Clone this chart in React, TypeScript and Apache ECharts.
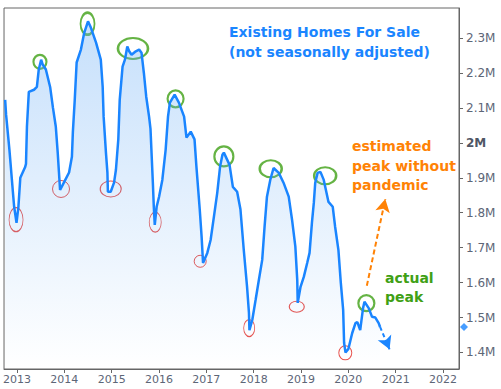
import React, { useEffect, useRef } from 'react';
import * as echarts from 'echarts';

// Inventory line (decimal year, millions of homes)
const lineYears = [
  2012.75, 2012.77, 2012.84, 2012.91, 2012.94, 2012.99, 2013.03, 2013.07, 2013.12, 2013.17,
  2013.19, 2013.21, 2013.25, 2013.36, 2013.42, 2013.46, 2013.51, 2013.54, 2013.61, 2013.70,
  2013.76, 2013.82, 2013.86, 2013.91, 2013.99, 2014.10, 2014.16, 2014.18, 2014.22, 2014.26,
  2014.35, 2014.42, 2014.50, 2014.56, 2014.67, 2014.77, 2014.81, 2014.83, 2014.88, 2014.91,
  2014.92, 2014.98, 2015.05, 2015.09, 2015.14, 2015.17, 2015.23, 2015.28, 2015.33, 2015.37,
  2015.42, 2015.51, 2015.58, 2015.63, 2015.68, 2015.73, 2015.79, 2015.82, 2015.87, 2015.89,
  2015.91, 2015.95, 2016.00, 2016.07, 2016.14, 2016.19, 2016.23, 2016.33, 2016.42, 2016.53,
  2016.58, 2016.67, 2016.75, 2016.79, 2016.86, 2016.90, 2016.93, 2017.02, 2017.09, 2017.16,
  2017.23, 2017.29, 2017.34, 2017.37, 2017.49, 2017.56, 2017.65, 2017.72, 2017.79, 2017.86,
  2017.90, 2017.91, 2017.97, 2018.04, 2018.11, 2018.18, 2018.23, 2018.28, 2018.35, 2018.42,
  2018.53, 2018.63, 2018.74, 2018.81, 2018.88, 2018.92, 2018.93, 2018.99, 2019.06, 2019.13,
  2019.18, 2019.23, 2019.27, 2019.30, 2019.35, 2019.41, 2019.48, 2019.58, 2019.67, 2019.72,
  2019.79, 2019.84, 2019.89, 2019.91, 2019.94, 2020.00, 2020.08, 2020.15, 2020.19, 2020.25,
  2020.31, 2020.34, 2020.43, 2020.50, 2020.57, 2020.64, 2020.67,
];
const lineValues = [
  2.123, 2.08, 1.98, 1.865, 1.817, 1.771, 1.817, 1.90, 1.915, 1.93,
  1.94, 2.046, 2.146, 2.152, 2.16, 2.21, 2.238, 2.225, 2.21, 2.16,
  2.10, 2.046, 1.972, 1.865, 1.886, 1.915, 1.96, 2.03, 2.123, 2.23,
  2.267, 2.315, 2.348, 2.33, 2.287, 2.238, 2.16, 2.075, 1.97, 1.915,
  1.86, 1.86, 1.886, 1.923, 2.01, 2.123, 2.218, 2.238, 2.276, 2.262,
  2.252, 2.262, 2.267, 2.258, 2.2, 2.132, 2.075, 2.04, 1.886, 1.817,
  1.765, 1.817, 1.845, 1.894, 1.98, 2.075, 2.115, 2.138, 2.115, 2.075,
  2.015, 2.032, 2.01, 1.932, 1.81, 1.731, 1.656, 1.685, 1.722, 1.789,
  1.857, 1.932, 1.966, 1.972, 1.937, 1.874, 1.86, 1.81, 1.694, 1.588,
  1.513, 1.464, 1.493, 1.55, 1.608, 1.665, 1.76, 1.846, 1.894, 1.928,
  1.914, 1.886, 1.846, 1.78, 1.703, 1.608, 1.542, 1.588, 1.617, 1.656,
  1.685, 1.771, 1.828, 1.886, 1.914, 1.917, 1.894, 1.831, 1.817, 1.76,
  1.693, 1.60, 1.522, 1.427, 1.40, 1.41, 1.455, 1.484, 1.487, 1.464,
  1.527, 1.545, 1.527, 1.502, 1.50, 1.484, 1.473,
];

// Axis ticks
const xTickYears = [2013, 2014, 2015, 2016, 2017, 2018, 2019, 2020, 2021, 2022];
const yTickValues = [1.4, 1.5, 1.6, 1.7, 1.8, 1.9, 2, 2.1, 2.2, 2.3];
const xRange = [2012.726, 2022.337];
const yRange = [1.3527, 2.386];

// Annotated peaks (green) and troughs (red)
const peakYears = [2013.485, 2014.49, 2015.45, 2016.35, 2017.37, 2018.36, 2019.51, 2020.38];
const peakValues = [2.232, 2.341, 2.27, 2.126, 1.961, 1.926, 1.906, 1.541];
const troughYears = [2012.98, 2013.93, 2014.98, 2015.92, 2016.87, 2017.905, 2018.91, 2019.935];
const troughValues = [1.78, 1.868, 1.868, 1.773, 1.661, 1.47, 1.531, 1.399];

// Arrows: [startYear, startValue, endYear, endValue]
const estimateArrow = [2020.39, 1.591, 2020.78, 1.839];
const trendArrow = [2020.67, 1.473, 2020.87, 1.409];

// Ellipse sizes (style)
const peakSizes = [[13, 14], [14, 22], [30, 21], [16, 17], [19, 20], [22, 17], [22, 17], [16, 16]];
const troughSizes = [[14, 24], [17, 17], [21, 16], [12, 20], [12, 12], [11, 17], [15, 11], [13, 14]];

const BLUE = '#1a85ff';
const ORANGE = '#ff8205';
const GREEN = '#3fa015';
const RED = '#e3261e';
const LABEL = '#5d6677';
const FONT = '"DejaVu Sans", Verdana, sans-serif';
const ELLIPSE = 'path://M0,1A1,1,0,1,1,2,1A1,1,0,1,1,0,1Z';

export default function App() {
  const ref = useRef<HTMLDivElement>(null);
  useEffect(() => {
    if (!ref.current) return;
    const chart = echarts.init(ref.current, undefined, { renderer: 'svg' });
    const n = Math.min(lineYears.length, lineValues.length);
    const lineData = [];
    for (let i = 0; i < n; i++) lineData.push([lineYears[i], lineValues[i]]);
    const lastValue = lineValues[n - 1];

    const textEl = (text: string, left: number, top: number, color: string) => ({
      type: 'text',
      left,
      top,
      silent: true,
      style: { text, fill: color, font: `bold 14px ${FONT}` },
    });

    chart.setOption({
      animation: false,
      grid: {
        left: 3, right: 42, top: 8, bottom: 20,
        show: true, borderColor: '#666', borderWidth: 1,
      },
      xAxis: {
        type: 'value',
        min: xRange[0],
        max: xRange[1],
        axisLine: { lineStyle: { color: '#666' } },
        axisTick: { show: true, customValues: xTickYears, length: 4, lineStyle: { color: '#666' } },
        axisLabel: {
          customValues: xTickYears,
          color: LABEL, fontSize: 11, fontFamily: FONT, margin: 5,
          formatter: (v: number) => String(Math.round(v)),
        },
        splitLine: { show: false },
      },
      yAxis: {
        type: 'value',
        position: 'right',
        min: yRange[0],
        max: yRange[1],
        axisLine: { show: true, lineStyle: { color: '#666' } },
        axisTick: { show: true, customValues: yTickValues, length: 4, lineStyle: { color: '#666' } },
        axisLabel: {
          customValues: yTickValues,
          margin: 7,
          formatter: (v: number) => (Math.abs(v - 2) < 1e-9 ? '{b|2M}' : `{a|${v}M}`),
          rich: {
            a: { color: LABEL, fontSize: 12, fontFamily: FONT },
            b: { color: '#4f5665', fontSize: 12, fontFamily: FONT, fontWeight: 'bold' },
          },
        },
        splitLine: { show: false },
      },
      series: [
        {
          type: 'line',
          data: lineData,
          showSymbol: false,
          symbol: 'none',
          lineStyle: { color: BLUE, width: 2.5 },
          areaStyle: {
            origin: 'start',
            color: new echarts.graphic.LinearGradient(0, 0, 0, 1, [
              { offset: 0, color: 'rgba(100,170,245,0.52)' },
              { offset: 1, color: 'rgba(100,170,245,0)' },
            ]),
          },
          markLine: {
            silent: true,
            symbol: ['none', 'arrow'],
            symbolSize: [11, 13],
            label: { show: false },
            data: [
              [
                { coord: [estimateArrow[0], estimateArrow[1]], lineStyle: { color: ORANGE, width: 2, type: [5, 3] }, itemStyle: { color: ORANGE } },
                { coord: [estimateArrow[2], estimateArrow[3]] },
              ],
              [
                { coord: [trendArrow[0], trendArrow[1]], lineStyle: { color: BLUE, width: 2, type: [4, 3] }, itemStyle: { color: BLUE } },
                { coord: [trendArrow[2], trendArrow[3]] },
              ],
            ],
          },
        },
        {
          type: 'scatter',
          silent: true,
          symbol: ELLIPSE,
          data: peakYears.map((y, i) => ({ value: [y, peakValues[i]], symbolSize: peakSizes[i] })),
          itemStyle: { color: 'rgba(0,0,0,0)', borderColor: GREEN, borderWidth: 2.2 },
        },
        {
          type: 'scatter',
          silent: true,
          symbol: ELLIPSE,
          data: troughYears.map((y, i) => ({ value: [y, troughValues[i]], symbolSize: troughSizes[i] })),
          itemStyle: { color: 'rgba(0,0,0,0)', borderColor: RED, borderWidth: 1 },
        },
        {
          type: 'scatter',
          silent: true,
          clip: false,
          symbol: 'diamond',
          symbolSize: 8,
          symbolOffset: [5, 0],
          data: [[xRange[1], lastValue]],
          itemStyle: { color: BLUE },
        },
      ],
      graphic: [
        textEl('Existing Homes For Sale', 229, 25, BLUE),
        textEl('(not seasonally adjusted)', 229, 45, BLUE),
        textEl('estimated', 352, 139, ORANGE),
        textEl('peak without', 352, 158.5, ORANGE),
        textEl('pandemic', 352, 178, ORANGE),
        textEl('actual', 385, 271, GREEN),
        textEl('peak', 385, 290, GREEN),
      ],
    });
    return () => chart.dispose();
  }, []);
  return (
    <div
      ref={ref}
      style={{ position: 'fixed', left: 0, top: 0, width: 501, height: 389, background: '#fff' }}
    />
  );
}
